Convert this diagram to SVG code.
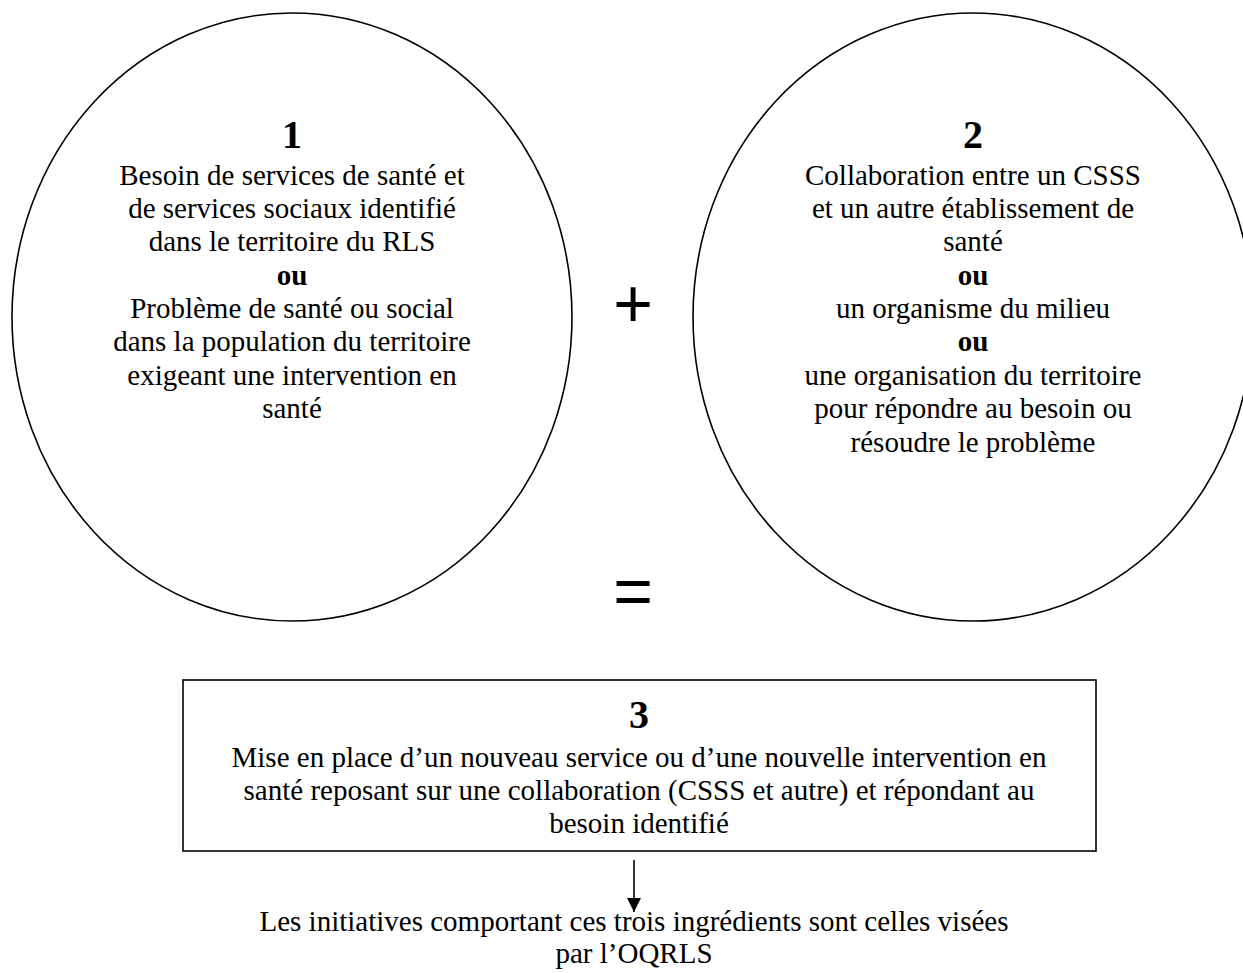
<svg xmlns="http://www.w3.org/2000/svg" width="1243" height="973" viewBox="0 0 1243 973">
<style>
.shape{fill:none;stroke:#000;stroke-width:1.6}
.t{font-family:"Liberation Serif","Times New Roman",serif;font-size:29px;fill:#000;text-anchor:middle}
.b{font-weight:bold}
.num{font-family:"Liberation Serif","Times New Roman",serif;font-size:40px;font-weight:bold;fill:#000;text-anchor:middle}
.op{font-family:"Liberation Sans",Arial,sans-serif;font-size:68px;fill:#000;text-anchor:middle}
</style>
<defs>
<marker id="ah" viewBox="0 0 10 10" refX="10" refY="5" markerWidth="14" markerHeight="14" markerUnits="userSpaceOnUse" orient="auto">
<path d="M0,0 L10,5 L0,10 Z" fill="#000"/>
</marker>
</defs>
<rect width="1243" height="973" fill="#fff"/>
<g id="node1">
<ellipse class="shape" cx="292" cy="317" rx="280" ry="304"/>
<text class="num" x="292" y="148">1</text>
<text class="t" x="292" y="185">Besoin de services de santé et</text>
<text class="t" x="292" y="218">de services sociaux identifié</text>
<text class="t" x="292" y="251">dans le territoire du RLS</text>
<text class="t b" x="292" y="285">ou</text>
<text class="t" x="292" y="318">Problème de santé ou social</text>
<text class="t" x="292" y="351">dans la population du territoire</text>
<text class="t" x="292" y="385">exigeant une intervention en</text>
<text class="t" x="292" y="418">santé</text>
</g>
<g id="node2">
<ellipse class="shape" cx="973" cy="317" rx="280" ry="304"/>
<text class="num" x="973" y="148">2</text>
<text class="t" x="973" y="185">Collaboration entre un CSSS</text>
<text class="t" x="973" y="218">et un autre établissement de</text>
<text class="t" x="973" y="251">santé</text>
<text class="t b" x="973" y="285">ou</text>
<text class="t" x="973" y="318">un organisme du milieu</text>
<text class="t b" x="973" y="351">ou</text>
<text class="t" x="973" y="385">une organisation du territoire</text>
<text class="t" x="973" y="418">pour répondre au besoin ou</text>
<text class="t" x="973" y="452">résoudre le problème</text>
</g>
<g id="plus"><text class="op" x="633" y="327">+</text></g>
<g id="equals"><text class="op" x="633" y="615">=</text></g>
<g id="node3">
<rect class="shape" x="183" y="680" width="913" height="171"/>
<text class="num" x="639" y="728">3</text>
<text class="t" x="639" y="767">Mise en place d’un nouveau service ou d’une nouvelle intervention en</text>
<text class="t" x="639" y="800">santé reposant sur une collaboration (CSSS et autre) et répondant au</text>
<text class="t" x="639" y="833">besoin identifié</text>
</g>
<g id="connectors">
<line x1="634" y1="860" x2="634" y2="912" stroke="#000" stroke-width="1.6" marker-end="url(#ah)"/>
</g>
<g id="result">
<text class="t" x="634" y="931">Les initiatives comportant ces trois ingrédients sont celles visées</text>
<text class="t" x="634" y="963">par l’OQRLS</text>
</g>
</svg>
